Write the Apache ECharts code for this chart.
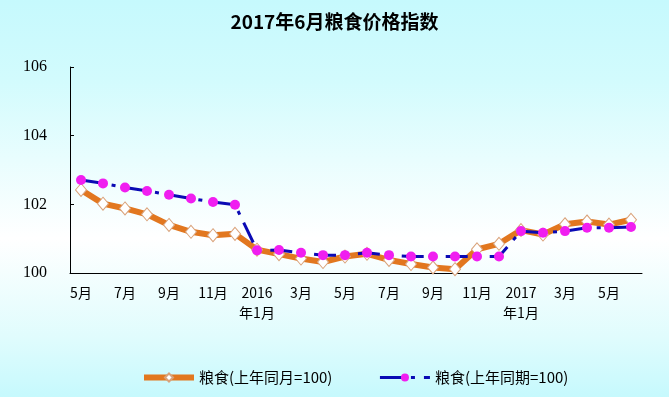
<!DOCTYPE html>
<html lang="zh">
<head>
<meta charset="utf-8">
<title>2017年6月粮食价格指数</title>
<style>
  html, body { margin: 0; padding: 0; }
  #main { width: 669px; height: 397px; }
</style>
</head>
<body>
<div id="main"></div>
<script src="https://cdn.jsdelivr.net/npm/echarts@6/dist/echarts.min.js"></script>
<script>
// 2015年5月 - 2017年6月
var months = ['5月', '6月', '7月', '8月', '9月', '10月', '11月', '12月',
  '2016\n年1月', '2月', '3月', '4月', '5月', '6月', '7月', '8月', '9月', '10月', '11月', '12月',
  '2017\n年1月', '2月', '3月', '4月', '5月', '6月'];

// 粮食(上年同月=100)
var yoyMonth = [102.42, 102.02, 101.88, 101.71, 101.40, 101.20, 101.10, 101.14,
  100.68, 100.55, 100.42, 100.32, 100.48, 100.56, 100.38, 100.26, 100.16, 100.11, 100.69, 100.85,
  101.25, 101.12, 101.42, 101.50, 101.41, 101.55];

// 粮食(上年同期=100)
var yoyPeriod = [102.71, 102.61, 102.49, 102.39, 102.28, 102.17, 102.07, 101.99,
  100.66, 100.67, 100.59, 100.52, 100.52, 100.59, 100.52, 100.48, 100.48, 100.48, 100.48, 100.48,
  101.22, 101.17, 101.22, 101.32, 101.32, 101.34];

var yTicks = { min: 100, max: 106, step: 2 };

var cjk = '"Noto Sans CJK SC", "Noto Sans", sans-serif';

var myChart = echarts.init(document.getElementById('main'));

var option = {
  backgroundColor: {
    type: 'linear', x: 0, y: 0, x2: 0, y2: 1,
    colorStops: [
      { offset: 0, color: '#c6f9fd' },
      { offset: 0.2, color: '#d2fbfd' },
      { offset: 0.6, color: '#ffffff' },
      { offset: 0.85, color: '#e0fcfd' },
      { offset: 1, color: '#c6f9fd' }
    ]
  },
  animation: false,
  title: {
    text: '2017年6月粮食价格指数',
    left: 'center',
    top: 7,
    padding: [5, 5, 5, 18],
    textStyle: { fontFamily: cjk, fontSize: 19, fontWeight: 'bold', color: '#000' }
  },
  legend: {
    left: 136,
    top: 365,
    itemWidth: 50,
    itemHeight: 10,
    itemGap: 46,
    textStyle: { fontFamily: cjk, fontSize: 15, color: '#000' },
    data: [
      { name: '粮食(上年同月=100)', lineStyle: { width: 6 } },
      { name: '粮食(上年同期=100)', lineStyle: { width: 3 } }
    ]
  },
  grid: { left: 70, right: 27, top: 67, bottom: 124 },
  xAxis: {
    type: 'category',
    data: months,
    boundaryGap: true,
    axisLine: { lineStyle: { color: '#000', width: 1 } },
    axisTick: { inside: true, length: 6, interval: 0, lineStyle: { color: '#000' } },
    axisLabel: {
      interval: 1,
      margin: 10,
      fontFamily: cjk,
      fontSize: 14,
      lineHeight: 20,
      color: '#000'
    },
    splitLine: { show: false }
  },
  yAxis: {
    type: 'value',
    min: yTicks.min,
    max: yTicks.max,
    interval: yTicks.step,
    axisLine: { show: true, lineStyle: { color: '#000', width: 1 } },
    axisTick: { show: true, inside: true, length: 4, lineStyle: { color: '#000' } },
    axisLabel: {
      margin: 23,
      fontFamily: '"Liberation Serif", serif',
      fontSize: 16,
      color: '#000'
    },
    splitLine: { show: false }
  },
  series: [
    {
      name: '粮食(上年同月=100)',
      type: 'line',
      data: yoyMonth,
      symbol: 'diamond',
      symbolSize: [11, 13],
      lineStyle: { color: '#e2771f', width: 6 },
      itemStyle: { color: '#ffffff', borderColor: '#d9a27a', borderWidth: 1 },
      z: 2
    },
    {
      name: '粮食(上年同期=100)',
      type: 'line',
      data: yoyPeriod,
      symbol: 'circle',
      symbolSize: 10,
      lineStyle: { color: '#0a0ab4', width: 3, type: [22, 9, 4, 9], cap: 'butt' },
      itemStyle: { color: '#f01ef0', borderWidth: 0 },
      z: 3
    }
  ]
};

myChart.setOption(option);
</script>
</body>
</html>
